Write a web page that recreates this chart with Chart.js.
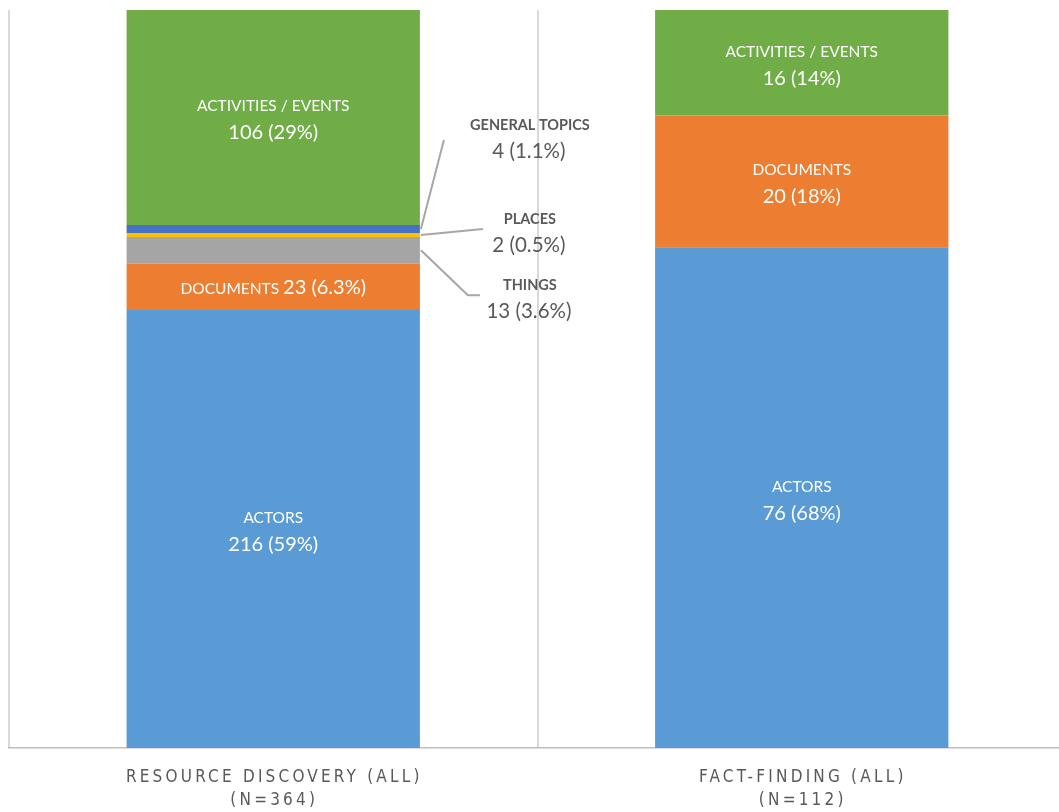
<!DOCTYPE html>
<html>
<head>
<meta charset="utf-8">
<script src="https://cdn.jsdelivr.net/npm/chart.js@4/dist/chart.umd.min.js"></script>
<style>
  html, body { margin: 0; padding: 0; background: #fff; overflow: hidden; }
  #wrap { position: relative; width: 1066px; height: 812px; }
</style>
</head>
<body>
<div id="wrap"><canvas id="chart" width="1066" height="812"></canvas></div>
<script>
// Two query groups, stacked to 100%
const categories = [['RESOURCE DISCOVERY (ALL)', '(N=364)'], ['FACT-FINDING (ALL)', '(N=112)']];
const seriesNames = ['Actors', 'Documents', 'Things', 'Places', 'General topics', 'Activities / Events'];

const actors = [216, 76];
const documents = [23, 20];
const things = [13, 0];
const places = [2, 0];
const generalTopics = [4, 0];
const activities = [106, 16];

// percent labels as printed on the chart
const pctActors = ['59%', '68%'];
const pctDocuments = ['6.3%', '18%'];
const pctThings = ['3.6%', ''];
const pctPlaces = ['0.5%', ''];
const pctGeneral = ['1.1%', ''];
const pctActivities = ['29%', '14%'];

const counts = [actors, documents, things, places, generalTopics, activities];
const pcts = [pctActors, pctDocuments, pctThings, pctPlaces, pctGeneral, pctActivities];
const colors = ['#5B9BD5', '#ED7D31', '#A5A5A5', '#FFC000', '#4472C4', '#70AD47'];

const totals = categories.map((_, j) => counts.reduce((s, arr) => s + arr[j], 0));
const share = (arr) => arr.map((v, j) => v / (totals[j] || 1) * 100);

const FONT = 'Lato, "Open Sans", sans-serif';
const GREY = '#595959';

// where the small slices put their callouts (offsets from the bar's right edge / slice centre)
const callouts = {
  4: { dx: 110, dy: -104, pts: [[24, -89]] },
  3: { dx: 110, dy: -16, pts: [[63, -6]] },
  2: { dx: 110, dy: 35, pts: [[48, 45], [60, 45]] },
};

const labelPlugin = {
  id: 'segLabels',
  afterDatasetsDraw(chart) {
    const ctx = chart.ctx;
    ctx.save();
    ctx.textAlign = 'center';
    ctx.textBaseline = 'middle';
    chart.data.datasets.forEach((ds, i) => {
      const meta = chart.getDatasetMeta(i);
      meta.data.forEach((bar, j) => {
        const n = counts[i][j];
        if (!n) return;
        const name = seriesNames[i].toUpperCase();
        const val = `${n} (${pcts[i][j]})`;
        const top = Math.min(bar.y, bar.base), bot = Math.max(bar.y, bar.base);
        const h = bot - top;
        const cy = (top + bot) / 2;
        if (h >= 60) {
          ctx.fillStyle = '#fff';
          ctx.font = `15.5px ${FONT}`;
          ctx.fillText(name, bar.x, cy - 11);
          ctx.font = `20px ${FONT}`;
          ctx.fillText(val, bar.x, cy + 15.5);
        } else if (h >= 30) {
          ctx.fillStyle = '#fff';
          ctx.font = `15.5px ${FONT}`;
          const w1 = ctx.measureText(name + ' ').width;
          ctx.font = `20px ${FONT}`;
          const w2 = ctx.measureText(val).width;
          const x0 = bar.x - (w1 + w2) / 2;
          ctx.textAlign = 'left';
          ctx.font = `15.5px ${FONT}`;
          ctx.fillText(name, x0, cy + 2);
          ctx.font = `20px ${FONT}`;
          ctx.fillText(val, x0 + w1, cy + 1);
          ctx.textAlign = 'center';
        } else {
          const c = callouts[i];
          if (!c) return;
          const right = bar.x + bar.width / 2;
          ctx.strokeStyle = '#A6A6A6';
          ctx.lineWidth = 2;
          ctx.beginPath();
          ctx.moveTo(right + 1, cy);
          c.pts.forEach(p => ctx.lineTo(right + p[0], cy + p[1]));
          ctx.stroke();
          ctx.fillStyle = GREY;
          ctx.font = `bold 14.5px ${FONT}`;
          ctx.fillText(name, right + c.dx, cy + c.dy);
          ctx.font = `20.5px ${FONT}`;
          ctx.fillText(val, right + c.dx - 1, cy + c.dy + 26);
        }
      });
    });
    ctx.restore();
  },
  afterDraw(chart) {
    const ctx = chart.ctx;
    const xs = chart.scales.x;
    const bottom = chart.chartArea.bottom;
    ctx.save();
    ctx.fillStyle = GREY;
    ctx.textAlign = 'center';
    ctx.textBaseline = 'middle';
    ctx.font = '17px "DejaVu Sans Condensed", "DejaVu Sans", sans-serif';
    ctx.letterSpacing = '3.2px';
    categories.forEach((lines, j) => {
      const x = xs.getPixelForValue(j);
      lines.forEach((t, k) => ctx.fillText(t, x + 1, bottom + 30 + k * 23));
    });
    ctx.restore();
  }
};

new Chart(document.getElementById('chart'), {
  type: 'bar',
  data: {
    labels: categories.map(c => c.join(' ')),
    datasets: counts.map((arr, i) => ({
      label: seriesNames[i],
      data: share(arr),
      backgroundColor: colors[i],
      borderWidth: 0,
      categoryPercentage: 1,
      barPercentage: 0.555,
    }))
  },
  options: {
    responsive: false,
    animation: false,
    layout: { padding: { left: 9, top: 10, right: 0, bottom: 64 } },
    plugins: { legend: { display: false }, tooltip: { enabled: false } },
    scales: {
      x: {
        stacked: true,
        offset: true,
        ticks: { display: false },
        grid: { display: true, offset: true, color: '#D9D9D9', lineWidth: 2, drawTicks: false },
        border: { display: true, color: '#BFBFBF', width: 1.5 }
      },
      y: { stacked: true, display: false, min: 0, max: 100 }
    }
  },
  plugins: [labelPlugin]
});
</script>
</body>
</html>
